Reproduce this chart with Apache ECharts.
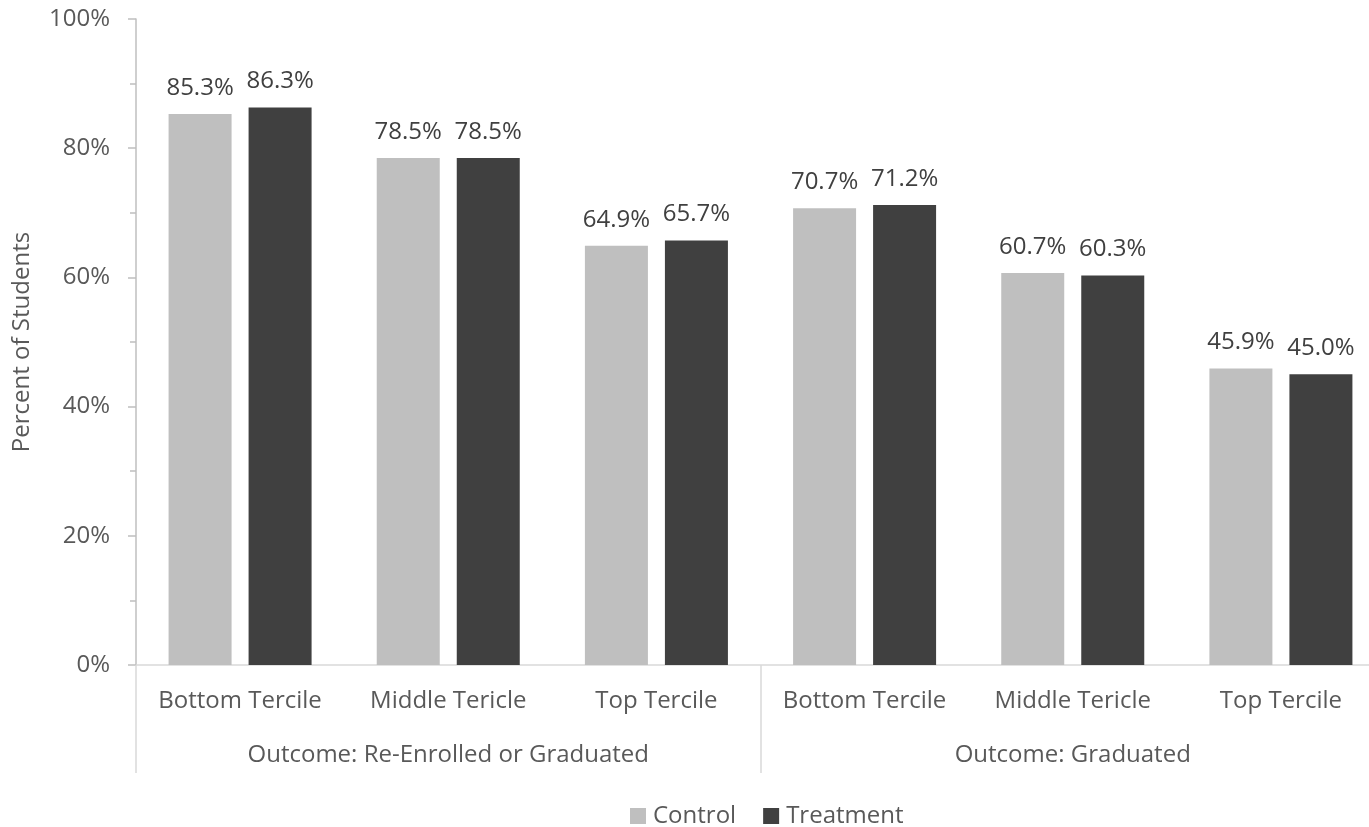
<!DOCTYPE html>
<html>
<head>
<meta charset="utf-8">
<script src="https://cdn.jsdelivr.net/npm/echarts@6/dist/echarts.min.js"></script>
<style>
html,body{margin:0;padding:0;background:#fff;}
#chart{width:1369px;height:827px;}
</style>
</head>
<body>
<div id="chart"></div>
<script>
// 分类 / 数据
var categories = ['Bottom Tercile', 'Middle Tericle', 'Top Tercile', 'Bottom Tercile', 'Middle Tericle', 'Top Tercile'];
var groups = ['Outcome: Re-Enrolled or Graduated', 'Outcome: Graduated'];
var controlValues = [85.3, 78.5, 64.9, 70.7, 60.7, 45.9];
var treatmentValues = [86.3, 78.5, 65.7, 71.2, 60.3, 45.0];
var seriesNames = ['Control', 'Treatment'];

var FONT = '"Open Sans", "Noto Sans", sans-serif';
var FS = 24;
var chart = echarts.init(document.getElementById('chart'));

var labelOpt = {
	show: true,
	position: 'top',
	distance: 14,
	color: '#404040',
	fontSize: FS,
	fontFamily: FONT,
	formatter: function(p){ return p.value.toFixed(1) + '%'; }
};

var opt = {
	backgroundColor: '#fff',
	animation: false,
	textStyle: { fontFamily: FONT },
	grid: { left: 136, top: 19, right: -16, bottom: 162, containLabel: false, outerBoundsMode: 'none' },
	legend: {
		top: 799,
		left: 625,
		itemWidth: 16,
		itemHeight: 16,
		itemGap: 27,
		icon: 'rect',
		textStyle: { color: '#595959', fontSize: FS, fontFamily: FONT, padding: [0, 0, 0, 2] },
		data: seriesNames
	},
	xAxis: [{
		type: 'category',
		data: categories,
		axisLine: { lineStyle: { color: '#d9d9d9', width: 1.5 } },
		axisTick: { show: false },
		axisLabel: { color: '#595959', fontSize: FS, fontFamily: FONT, margin: 24, interval: 0 }
	}, {
		type: 'category',
		position: 'bottom',
		data: groups,
		axisLine: { show: false },
		axisTick: { show: true, length: 108, interval: 0, lineStyle: { color: '#d9d9d9', width: 1.5 } },
		axisLabel: { color: '#595959', fontSize: FS, fontFamily: FONT, margin: 78, interval: 0 }
	}],
	yAxis: {
		type: 'value',
		min: 0,
		max: 100,
		interval: 20,
		name: 'Percent of Students',
		nameLocation: 'middle',
		nameGap: 102,
		nameTextStyle: { color: '#595959', fontSize: FS, fontFamily: FONT },
		axisLine: { show: true, lineStyle: { color: '#bfbfbf', width: 1.5 } },
		axisTick: { show: true, length: 8, lineStyle: { color: '#bfbfbf', width: 1.5 } },
		minorTick: { show: true, splitNumber: 2, length: 6, lineStyle: { color: '#bfbfbf', width: 1.5 } },
		splitLine: { show: false },
		axisLabel: { color: '#595959', fontSize: FS, fontFamily: FONT, margin: 26, formatter: '{value}%' }
	},
	series: [{
		name: seriesNames[0],
		type: 'bar',
		data: controlValues,
		barWidth: 63,
		barGap: '27%',
		itemStyle: { color: '#bfbfbf' },
		label: labelOpt
	}, {
		name: seriesNames[1],
		type: 'bar',
		data: treatmentValues,
		barWidth: 63,
		itemStyle: { color: '#404040' },
		label: labelOpt
	}]
};
chart.setOption(opt);
</script>
</body>
</html>
